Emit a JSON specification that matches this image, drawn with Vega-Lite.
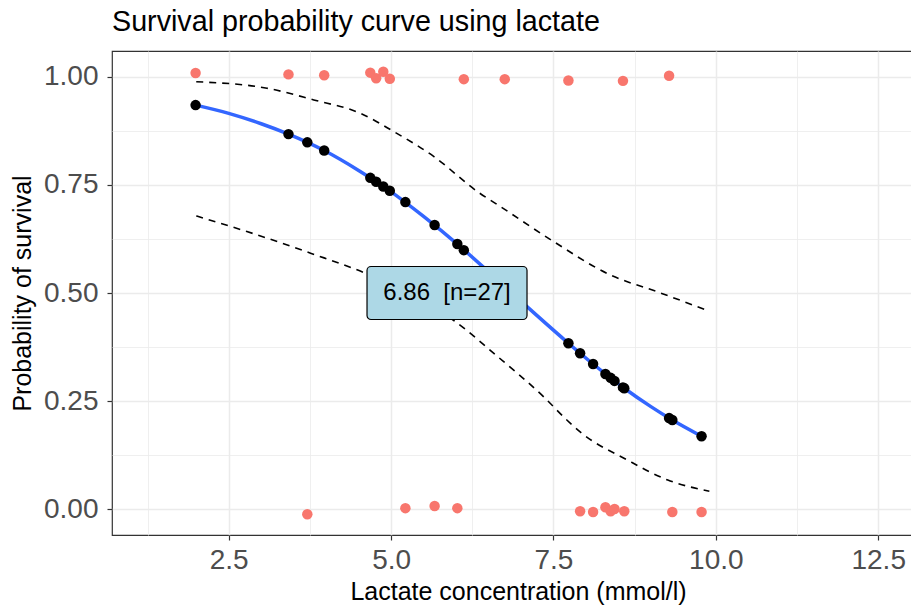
{
  "$schema": "https://vega.github.io/schema/vega-lite/v6.json",
  "width": 800,
  "height": 484,
  "autosize": {"type": "none"},
  "padding": {"left": 112, "top": 51, "right": 0, "bottom": 70},
  "background": "white",
  "title": {
    "text": "Survival probability curve using lactate",
    "anchor": "start",
    "frame": "group",
    "font": "Liberation Sans",
    "fontSize": 28.7,
    "fontWeight": "normal",
    "color": "black",
    "baseline": "alphabetic",
    "offset": 20,
    "dy": 29
  },
  "config": {
    "font": "Liberation Sans",
    "view": {"stroke": "#333333", "strokeWidth": 1.2}
  },
  "datasets": {
    "obs": [
      {"lactate": 1.99, "survival": 1.008},
      {"lactate": 3.42, "survival": 1.005},
      {"lactate": 3.97, "survival": 1.003},
      {"lactate": 4.68, "survival": 1.009},
      {"lactate": 4.77, "survival": 0.996},
      {"lactate": 4.88, "survival": 1.011},
      {"lactate": 4.98, "survival": 0.995},
      {"lactate": 6.12, "survival": 0.994},
      {"lactate": 6.75, "survival": 0.994},
      {"lactate": 7.73, "survival": 0.991},
      {"lactate": 8.57, "survival": 0.990},
      {"lactate": 9.28, "survival": 1.002},
      {"lactate": 3.71, "survival": -0.011},
      {"lactate": 5.22, "survival": 0.003},
      {"lactate": 5.67, "survival": 0.008},
      {"lactate": 6.02, "survival": 0.003},
      {"lactate": 7.91, "survival": -0.004},
      {"lactate": 8.11, "survival": -0.006},
      {"lactate": 8.30, "survival": 0.005},
      {"lactate": 8.38, "survival": -0.004},
      {"lactate": 8.44, "survival": 0.001},
      {"lactate": 8.59, "survival": -0.004},
      {"lactate": 9.33, "survival": -0.006},
      {"lactate": 9.78, "survival": -0.006}
    ],
    "fit": [
      {"lactate": 1.99, "p": 0.934},
      {"lactate": 3.42, "p": 0.867},
      {"lactate": 3.71, "p": 0.848},
      {"lactate": 3.97, "p": 0.829},
      {"lactate": 4.68, "p": 0.766},
      {"lactate": 4.77, "p": 0.757},
      {"lactate": 4.88, "p": 0.746},
      {"lactate": 4.98, "p": 0.736},
      {"lactate": 5.22, "p": 0.710},
      {"lactate": 5.67, "p": 0.657},
      {"lactate": 6.02, "p": 0.613},
      {"lactate": 6.12, "p": 0.599},
      {"lactate": 6.75, "p": 0.515},
      {"lactate": 7.73, "p": 0.384},
      {"lactate": 7.91, "p": 0.361},
      {"lactate": 8.11, "p": 0.336},
      {"lactate": 8.30, "p": 0.313},
      {"lactate": 8.38, "p": 0.304},
      {"lactate": 8.44, "p": 0.297},
      {"lactate": 8.57, "p": 0.282},
      {"lactate": 8.59, "p": 0.280},
      {"lactate": 9.28, "p": 0.211},
      {"lactate": 9.33, "p": 0.2065},
      {"lactate": 9.78, "p": 0.169}
    ],
    "curve": [
      {"lactate": 1.99, "p": 0.934},
      {"lactate": 2.5, "p": 0.915},
      {"lactate": 3.0, "p": 0.891},
      {"lactate": 3.42, "p": 0.867},
      {"lactate": 3.97, "p": 0.829},
      {"lactate": 4.5, "p": 0.783},
      {"lactate": 4.98, "p": 0.736},
      {"lactate": 5.5, "p": 0.677},
      {"lactate": 6.02, "p": 0.613},
      {"lactate": 6.5, "p": 0.549},
      {"lactate": 6.86, "p": 0.5},
      {"lactate": 7.2, "p": 0.454},
      {"lactate": 7.73, "p": 0.384},
      {"lactate": 8.11, "p": 0.336},
      {"lactate": 8.59, "p": 0.280},
      {"lactate": 9.0, "p": 0.2375},
      {"lactate": 9.33, "p": 0.2065},
      {"lactate": 9.78, "p": 0.169}
    ],
    "upper": [
      {"lactate": 2.0, "p": 0.988},
      {"lactate": 3.09, "p": 0.973},
      {"lactate": 3.81, "p": 0.946},
      {"lactate": 4.53, "p": 0.915},
      {"lactate": 5.04, "p": 0.873},
      {"lactate": 5.66, "p": 0.815},
      {"lactate": 6.35, "p": 0.732},
      {"lactate": 6.69, "p": 0.699},
      {"lactate": 7.51, "p": 0.618},
      {"lactate": 8.33, "p": 0.545},
      {"lactate": 9.15, "p": 0.500},
      {"lactate": 9.9, "p": 0.458}
    ],
    "lower": [
      {"lactate": 2.0, "p": 0.678},
      {"lactate": 2.78, "p": 0.642},
      {"lactate": 3.76, "p": 0.592},
      {"lactate": 4.58, "p": 0.547},
      {"lactate": 5.2, "p": 0.503},
      {"lactate": 5.96, "p": 0.437},
      {"lactate": 6.61, "p": 0.357},
      {"lactate": 7.35, "p": 0.260},
      {"lactate": 7.71, "p": 0.206},
      {"lactate": 7.92, "p": 0.178},
      {"lactate": 8.64, "p": 0.114},
      {"lactate": 9.26, "p": 0.068},
      {"lactate": 9.9, "p": 0.042}
    ],
    "label": [
      {"lactate": 5.861, "p": 0.5, "text": "6.86\u00a0 [n=27]"}
    ]
  },
  "resolve": {"axis": {"x": "independent", "y": "independent"}},
  "layer": [
    {
      "data": {"name": "obs"},
      "mark": {"type": "circle", "size": 110, "color": "#F8766D", "opacity": 1},
      "encoding": {
        "x": {
          "field": "lactate", "type": "quantitative",
          "scale": {"domain": [0.703, 13.02], "nice": false, "zero": false},
          "axis": {"orient": "bottom", "values": [1.25, 3.75, 6.25, 8.75, 11.25], "grid": true, "gridColor": "#EBEBEB", "gridWidth": 0.8, "labels": false, "ticks": false, "domain": false, "title": null}
        },
        "y": {
          "field": "survival", "type": "quantitative",
          "scale": {"domain": [-0.059, 1.059], "nice": false, "zero": false},
          "axis": {"orient": "left", "values": [0.125, 0.375, 0.625, 0.875], "grid": true, "gridColor": "#EBEBEB", "gridWidth": 0.8, "labels": false, "ticks": false, "domain": false, "title": null}
        }
      }
    },
    {
      "data": {"name": "upper"},
      "mark": {"type": "line", "color": "black", "strokeWidth": 1.6, "strokeDash": [7, 6], "interpolate": "monotone"},
      "encoding": {
        "x": {
          "field": "lactate", "type": "quantitative",
          "axis": {
            "orient": "bottom",
            "values": [2.5, 5, 7.5, 10, 12.5], "format": ".1f",
            "grid": true, "gridColor": "#EBEBEB", "gridWidth": 1.5,
            "domain": false, "tickColor": "#333333", "tickSize": 5, "tickWidth": 1.2,
            "labelFont": "Liberation Sans", "labelFontSize": 28, "labelColor": "#4D4D4D",
            "labelPadding": 28, "labelBaseline": "alphabetic",
            "title": "Lactate concentration (mmol/l)", "titleFont": "Liberation Sans",
            "titleFontSize": 25, "titleFontWeight": "normal", "titleColor": "black",
            "titleX": 406, "titleY": 64, "titleBaseline": "alphabetic", "titleAlign": "center"
          }
        },
        "y": {
          "field": "p", "type": "quantitative",
          "axis": {
            "orient": "left",
            "values": [0, 0.25, 0.5, 0.75, 1], "format": ".2f",
            "grid": true, "gridColor": "#EBEBEB", "gridWidth": 1.5,
            "domain": false, "tickColor": "#333333", "tickSize": 5, "tickWidth": 1.2,
            "labelFont": "Liberation Sans", "labelFontSize": 28, "labelColor": "#4D4D4D",
            "labelPadding": 9, "labelBaseline": "middle",
            "title": "Probability of survival", "titleFont": "Liberation Sans",
            "titleFontSize": 25, "titleFontWeight": "normal", "titleColor": "black",
            "titleX": -82, "titleY": 242, "titleAngle": -90, "titleBaseline": "alphabetic", "titleAlign": "center"
          }
        }
      }
    },
    {
      "data": {"name": "lower"},
      "mark": {"type": "line", "color": "black", "strokeWidth": 1.6, "strokeDash": [7, 6], "interpolate": "monotone"},
      "encoding": {
        "x": {"field": "lactate", "type": "quantitative", "axis": null},
        "y": {"field": "p", "type": "quantitative", "axis": null}
      }
    },
    {
      "mark": {"type": "rule", "color": "black", "strokeWidth": 1.5},
      "encoding": {
        "y": {"datum": 0.5, "type": "quantitative", "axis": null}
      }
    },
    {
      "data": {"name": "curve"},
      "mark": {"type": "line", "color": "#3366FF", "strokeWidth": 3.5, "interpolate": "monotone"},
      "encoding": {
        "x": {"field": "lactate", "type": "quantitative", "axis": null},
        "y": {"field": "p", "type": "quantitative", "axis": null}
      }
    },
    {
      "data": {"name": "fit"},
      "mark": {"type": "circle", "size": 110, "color": "black", "opacity": 1},
      "encoding": {
        "x": {"field": "lactate", "type": "quantitative", "axis": null},
        "y": {"field": "p", "type": "quantitative", "axis": null}
      }
    },
    {
      "data": {"name": "label"},
      "mark": {"type": "rect", "width": 160, "height": 53, "cornerRadius": 4, "fill": "#ADD8E6", "stroke": "black", "strokeWidth": 1.2},
      "encoding": {
        "x": {"field": "lactate", "type": "quantitative", "axis": null},
        "y": {"field": "p", "type": "quantitative", "axis": null}
      }
    },
    {
      "data": {"name": "label"},
      "mark": {"type": "text", "font": "Liberation Sans", "fontSize": 24, "color": "black", "align": "center", "baseline": "middle"},
      "encoding": {
        "x": {"field": "lactate", "type": "quantitative", "axis": null},
        "y": {"field": "p", "type": "quantitative", "axis": null},
        "text": {"field": "text"}
      }
    }
  ]
}
